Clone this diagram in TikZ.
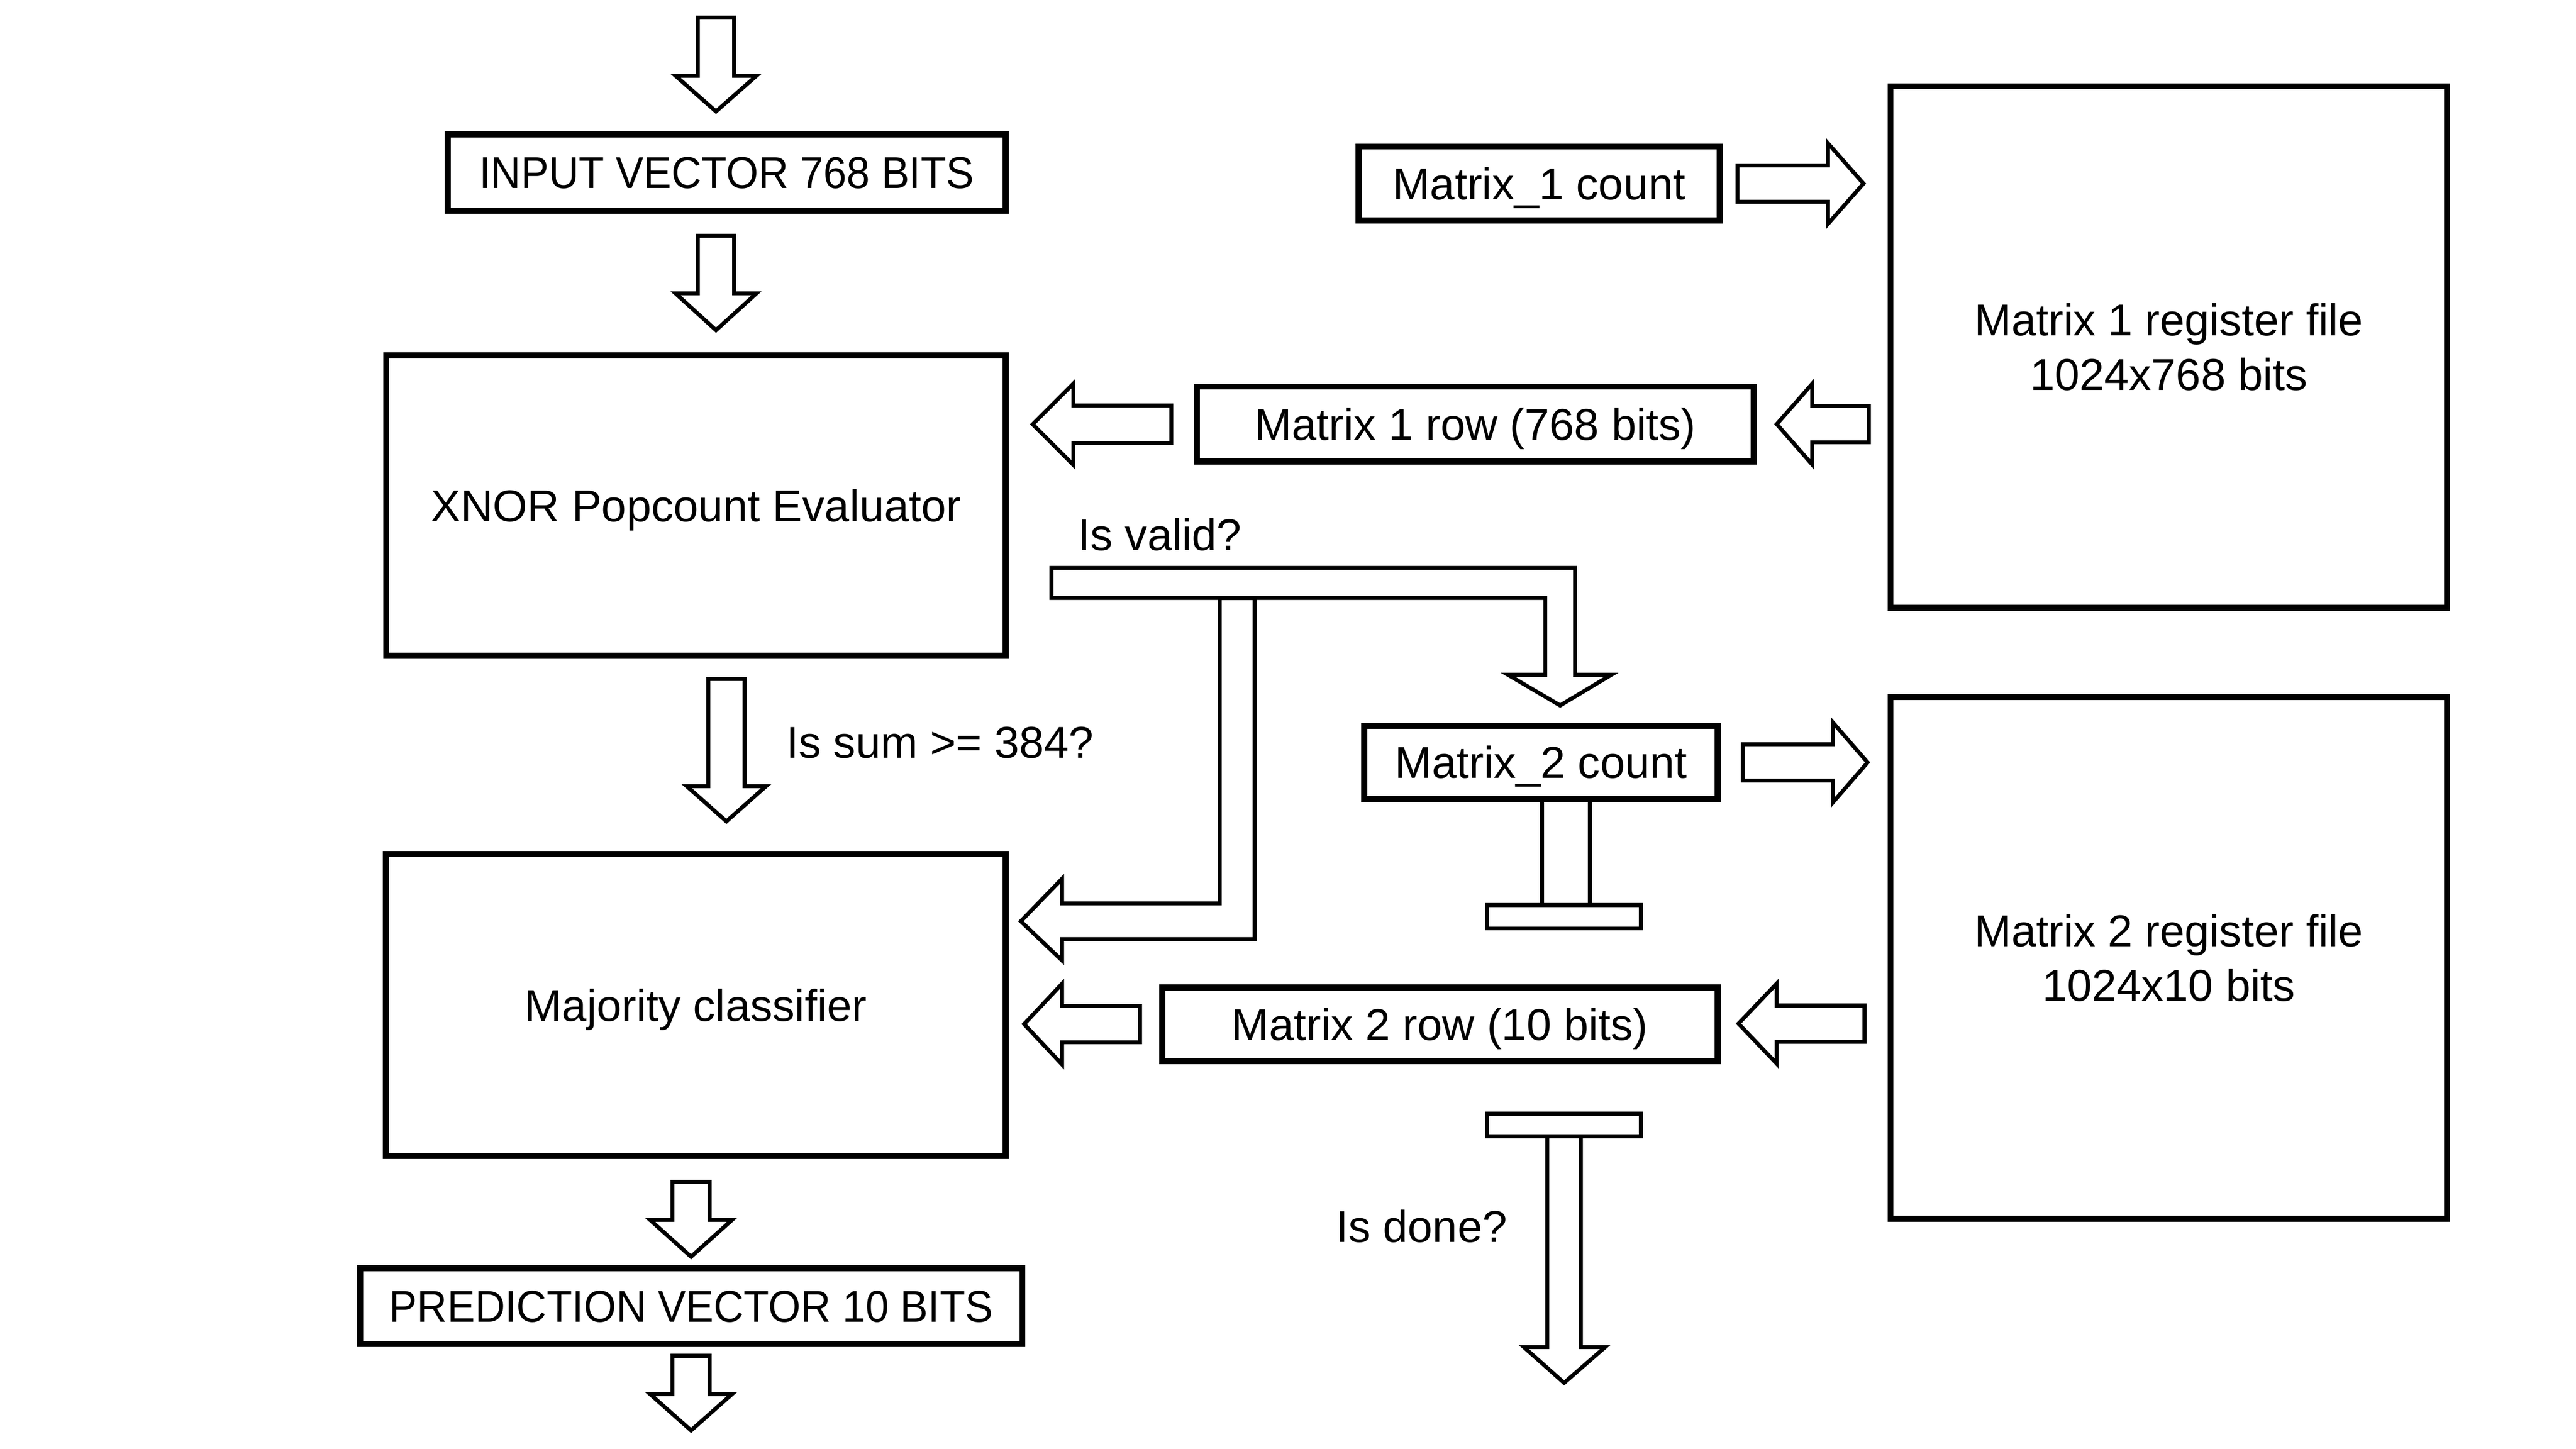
\documentclass[tikz,border=0pt]{standalone}
\usepackage{fontspec}
\setmainfont{Liberation Sans}
\usepackage{graphicx}
\newcommand\fs{\fontsize{19.2pt}{23.5pt}\selectfont}
\tikzset{
  box/.style={draw, line width=2.63pt, fill=white, inner sep=0pt, font=\fs, text height=13.8pt, text depth=0pt},
  regbox/.style={draw, line width=2.63pt, fill=white, inner sep=0pt, font=\fs, align=center},
  blk/.style={draw, line width=1.7pt, fill=white, line join=miter},
  lbl/.style={inner sep=0pt, font=\fs},
}
% style, name, x1, x2, y1, y2 (outer edges, y downwards)
\newcommand\mkbox[6]{\node[#1, minimum width={(#4-#3-3.7)*0.025cm}, minimum height={(#6-#5-3.7)*0.025cm}] (#2) at ({(#3+#4)/2},{(#5+#6)/2})}
% vertical block arrow: cx, y0, y1(shoulder), y2(tip), shaft half width, head half width
\newcommand\varrow[6]{\draw[blk] ({#1-#5},#2) -- ({#1+#5},#2) -- ({#1+#5},#3) -- ({#1+#6},#3) -- (#1,#4) -- ({#1-#6},#3) -- ({#1-#5},#3) -- cycle;}
% horizontal block arrow: cy, x0, x1(neck), x2(tip), shaft half width, head half width
\newcommand\harrow[6]{\draw[blk] (#2,{#1-#5}) -- (#3,{#1-#5}) -- (#3,{#1-#6}) -- (#4,#1) -- (#3,{#1+#6}) -- (#3,{#1+#5}) -- (#2,{#1+#5}) -- cycle;}
\begin{document}
\begin{tikzpicture}[x=0.025cm, y=-0.025cm]
\useasboundingbox (0,0) rectangle (1560,877.5);
\fill[white] (0,0) rectangle (1560,877.5);

% left column arrows
\varrow{433.6}{10.7}{45.9}{67.5}{11}{24.5}
\varrow{433.6}{142.8}{177.7}{200}{11}{24.5}
\varrow{439.9}{411.2}{476.2}{497.5}{11}{24}
\varrow{418.5}{715.9}{738.9}{761.2}{11.3}{24.8}
\varrow{418.5}{821.2}{844.4}{866.4}{11.3}{24.8}

% horizontal arrows
\harrow{111.2}{1052.2}{1107}{1128.5}{11}{24.4}
\harrow{461.8}{1055.4}{1110}{1131}{11}{24.2}
\harrow{256.9}{1131.8}{1097.4}{1076}{11}{24.4}
\harrow{257}{709.3}{650}{625.4}{11.4}{24.6}
\harrow{620}{1129.1}{1075.9}{1052.8}{11}{24.2}
\harrow{620.3}{690.4}{643.2}{620.2}{11}{24.5}

% "Is valid?" branch to majority classifier
\draw[blk] (738.7,362.2) -- (738.7,547.2) -- (643.2,547.2) -- (643.2,532.2) -- (618.2,558)
  -- (643.2,581.8) -- (643.2,568.8) -- (759.8,568.8) -- (759.8,362.2) -- cycle;
% "Is valid?" bar to Matrix_2 count
\draw[blk] (636.7,344) -- (953.8,344) -- (953.8,408.7) -- (975.8,408.7) -- (944.8,427.3)
  -- (913.2,408.7) -- (935.8,408.7) -- (935.8,362.2) -- (636.7,362.2) -- cycle;

% T stub under Matrix_2 count
\draw[blk] (933.8,484) rectangle (962.8,548.2);
\draw[blk] (900.6,548.2) rectangle (993.8,562.4);

% "Is done?" output
\draw[blk] (937,688.3) -- (937,815.9) -- (922.8,815.9) -- (947.2,837.6) -- (972.1,815.9)
  -- (957.4,815.9) -- (957.4,688.3) -- cycle;
\draw[blk] (900.6,674.6) rectangle (993.8,688.3);

% boxes
\mkbox{box}{input}{269.2}{611}{79.5}{129.4} {\scalebox{0.935}[1]{INPUT VECTOR 768 BITS}};
\mkbox{box}{xnor}{232}{611}{213.5}{399} {XNOR Popcount Evaluator};
\mkbox{box}{maj}{231.8}{611}{515.5}{702} {Majority classifier};
\mkbox{box}{pred}{216.2}{621}{766.2}{816} {\scalebox{0.935}[1]{PREDICTION VECTOR 10 BITS}};
\mkbox{box}{mcount}{821}{1043.3}{86.9}{135.4} {Matrix\_1 count};
\mkbox{regbox}{mreg}{1143}{1483.7}{50.4}{369.9} {Matrix 1 register file\\1024x768 bits};
\mkbox{box}{mrow}{722.9}{1064}{232.3}{281.3} {Matrix 1 row (768 bits)};
\mkbox{box}{ncount}{824.3}{1042}{437.7}{485.7} {Matrix\_2 count};
\mkbox{regbox}{nreg}{1143}{1483.7}{420.2}{740} {Matrix 2 register file\\1024x10 bits};
\mkbox{box}{nrow}{702}{1042}{596.2}{644.5} {Matrix 2 row (10 bits)};

% labels
\node[lbl, anchor=base west] (lvalid) at (652.6,333.5) {Is valid?};
\node[lbl, anchor=base west] (lsum) at (476,459) {Is sum >= 384?};
\node[lbl, anchor=base east] (ldone) at (913,752.5) {Is done?};
\end{tikzpicture}
\end{document}
